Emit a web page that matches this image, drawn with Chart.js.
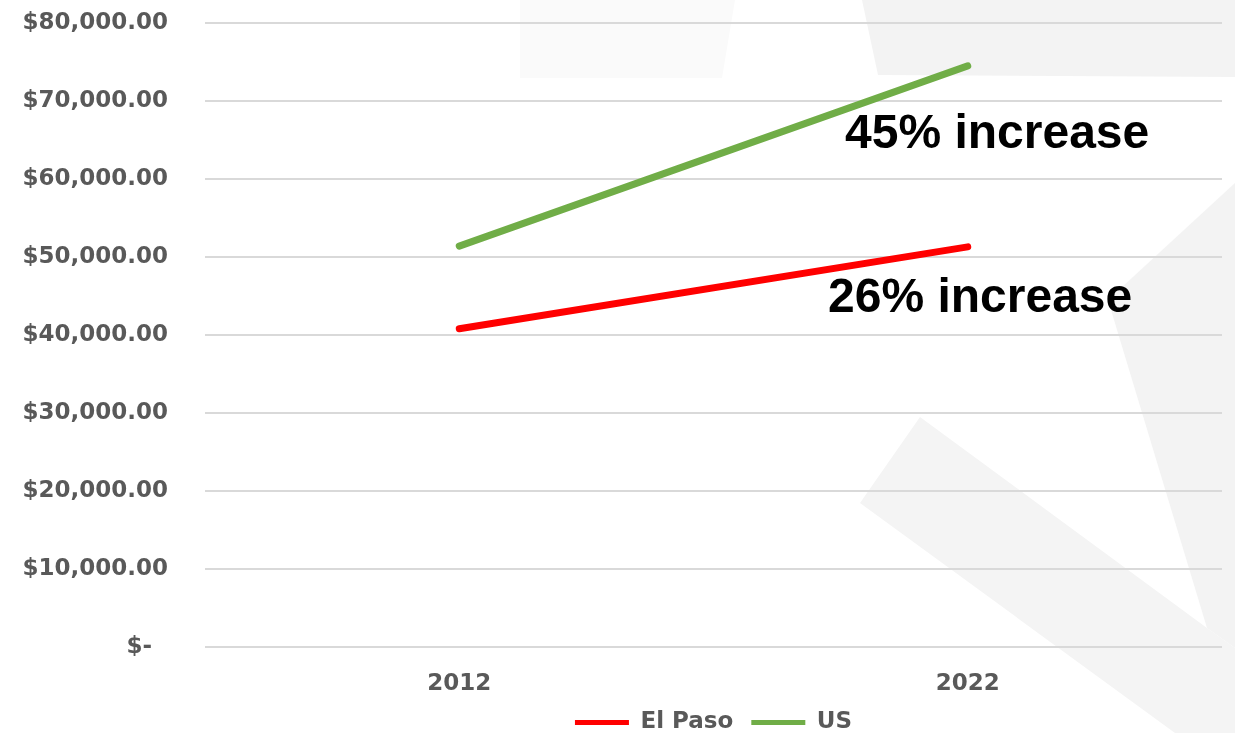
<!DOCTYPE html>
<html>
<head>
<meta charset="utf-8">
<script src="https://cdn.jsdelivr.net/npm/chart.js@4/dist/chart.umd.min.js"></script>
<style>
    html, body { margin: 0; padding: 0; background: #fff; }
    #wrap { position: relative; width: 1235px; height: 733px; overflow: hidden; }
    #bg { position: absolute; left: 0; top: 0; }
    #chart { position: absolute; left: 0; top: 0; }
</style>
</head>
<body>
<div id="wrap">
    <!-- faint watermark shapes behind the chart -->
    <svg id="bg" width="1235" height="733">
        <polygon points="520,0 735,0 722,78 520,78" fill="#fafafa"/>
        <polygon points="862,0 1235,0 1235,77 878,75" fill="#f3f3f3"/>
        <polygon points="1235,183 1108,300 1207,628 1235,648" fill="#f3f3f3"/>
        <polygon points="920,417 860,503 1175,733 1235,733 1235,648 1207,628" fill="#f4f4f4"/>
    </svg>
    <canvas id="chart" width="1235" height="733"></canvas>
</div>
<script>
// Chart data
const years = ['2012', '2022'];
const elPaso = [40800, 51300];
const us = [51400, 74500];
const yTicks = [0, 10000, 20000, 30000, 40000, 50000, 60000, 70000, 80000];

const grey = '#595959';
const labelFont = { family: '"DejaVu Sans", sans-serif', size: 23, weight: 'bold' };

// Money format like the spreadsheet: $80,000.00 and $- for zero
function money(v) {
    if (v === 0) return '$-  ';
    return '$' + v.toLocaleString('en-US', { minimumFractionDigits: 2, maximumFractionDigits: 2 });
}

// Big annotation texts
const annotations = {
    id: 'annotations',
    afterDatasetsDraw(chart) {
        const ctx = chart.ctx;
        ctx.save();
        ctx.fillStyle = '#000';
        ctx.font = 'bold 48px "Liberation Sans", Arial, sans-serif';
        ctx.textBaseline = 'alphabetic';
        ctx.textAlign = 'left';
        ctx.fillText('45% increase', 845, 148);
        ctx.fillText('26% increase', 828, 312);
        ctx.restore();
    }
};

const ctx = document.getElementById('chart').getContext('2d');
new Chart(ctx, {
    type: 'line',
    data: {
        labels: years,
        datasets: [{
            label: 'El Paso',
            data: elPaso,
            borderColor: '#ff0000',
            backgroundColor: '#ff0000',
            borderWidth: 7,
            borderCapStyle: 'round',
            pointRadius: 0,
            tension: 0
        }, {
            label: 'US',
            data: us,
            borderColor: '#70ad47',
            backgroundColor: '#70ad47',
            borderWidth: 7,
            borderCapStyle: 'round',
            pointRadius: 0,
            tension: 0
        }]
    },
    options: {
        responsive: false,
        animation: false,
        layout: {
            padding: { top: 23, right: 13, bottom: 0, left: 0 }
        },
        plugins: {
            tooltip: { enabled: false },
            legend: {
                position: 'bottom',
                fullSize: false,
                maxHeight: 24,
                labels: {
                    color: grey,
                    boxWidth: 54,
                    boxHeight: 5,
                    padding: 2,
                    font: Object.assign({}, labelFont, { lineHeight: 1 }),
                    generateLabels(chart) {
                        // trailing spaces give the gap between the two items
                        return chart.data.datasets.map((ds, i) => ({
                            text: i === 0 ? ds.label + '  ' : ds.label,
                            fillStyle: ds.borderColor,
                            strokeStyle: ds.borderColor,
                            lineWidth: 0,
                            fontColor: grey,
                            datasetIndex: i
                        }));
                    }
                }
            }
        },
        scales: {
            x: {
                offset: true,
                grid: { display: false, drawTicks: false },
                border: { display: false },
                ticks: {
                    color: grey,
                    padding: 23,
                    font: labelFont
                },
                afterFit(scale) { scale.height = 62; }
            },
            y: {
                min: 0,
                max: 80000,
                afterBuildTicks(scale) {
                    scale.ticks = yTicks.map(v => ({ value: v }));
                },
                grid: { color: '#d9d9d9', lineWidth: 2, drawTicks: false },
                border: { display: false },
                ticks: {
                    color: grey,
                    padding: 37,
                    font: labelFont,
                    callback: (v) => money(v)
                },
                afterFit(scale) {
                    scale.width = 205;
                    scale.paddingTop = 0;
                    scale.paddingBottom = 0;
                }
            }
        }
    },
    plugins: [annotations]
});
</script>
</body>
</html>
